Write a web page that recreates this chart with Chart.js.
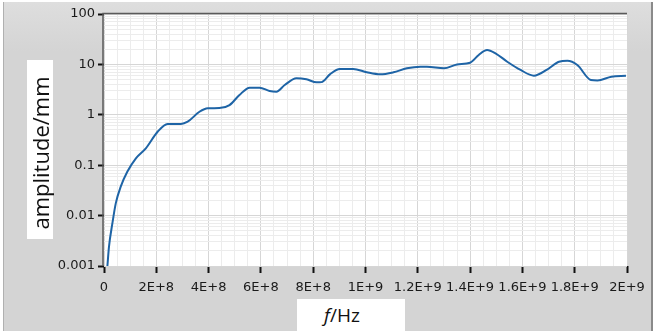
<!DOCTYPE html>
<html>
<head>
<meta charset="utf-8">
<script src="https://cdn.jsdelivr.net/npm/chart.js@4.4.4/dist/chart.umd.min.js"></script>
<style>
    html, body { margin: 0; padding: 0; background: #fff; }
    #wrap { position: relative; width: 661px; height: 334px; overflow: hidden; }
    #panel {
        position: absolute; left: 3px; top: 2px; width: 647px; height: 329px;
        background: linear-gradient(#dedede, #d4d4d4 15%, #d4d4d4);
        border-left: 1px solid #b0b0b0; border-right: 2px solid #8a8a8a;
    }
    #chart { position: absolute; left: 0; top: 0; }
    .axis-title {
        position: absolute; background: #fff; color: #111;
        font-family: "Open Sans", "DejaVu Sans", sans-serif;
        display: flex; align-items: center; justify-content: center;
    }
    #ytitle { left: 27px; top: 60px; width: 26px; height: 179px; }
    #ytitle span { transform: rotate(-90deg); white-space: nowrap; font-size: 22px; margin-top: 6px; }
    #xtitle { left: 297px; top: 299px; width: 108px; height: 32px; font-size: 19px; }
    #xtitle span { margin-right: 18px; }
</style>
</head>
<body>
<div id="wrap">
    <div id="panel"></div>
    <canvas id="chart" width="661" height="334"></canvas>
    <div class="axis-title" id="ytitle"><span>amplitude/mm</span></div>
    <div class="axis-title" id="xtitle"><span><i>f</i>/Hz</span></div>
</div>
<script>
// frequency (Hz) and amplitude (mm)
const frequency = [
    1.3e7, 1.9e7, 3.2e7, 4.5e7, 6.4e7, 8.9e7, 1.22e8, 1.6e8, 2.05e8, 2.43e8,
    2.94e8, 3.2e8, 3.65e8, 3.97e8, 4.41e8, 4.8e8, 5.18e8, 5.57e8, 5.95e8, 6.33e8,
    6.59e8, 6.91e8, 7.36e8, 7.74e8, 8.13e8, 8.32e8, 8.64e8, 9.02e8, 9.53e8, 1.005e9,
    1.056e9, 1.107e9, 1.158e9, 1.21e9, 1.235e9, 1.3e9, 1.35e9, 1.4e9, 1.433e9, 1.465e9,
    1.497e9, 1.542e9, 1.593e9, 1.644e9, 1.696e9, 1.74e9, 1.772e9, 1.81e9, 1.862e9, 1.887e9,
    1.94e9, 1.996e9
];
const amplitude = [
    0.001, 0.0024, 0.007, 0.0175, 0.0375, 0.074, 0.137, 0.216, 0.46, 0.66,
    0.66, 0.73, 1.15, 1.35, 1.36, 1.56, 2.47, 3.45, 3.45, 2.97,
    2.87, 3.9, 5.3, 5.06, 4.4, 4.45, 6.35, 8.1, 8.1, 6.97,
    6.35, 6.97, 8.35, 9.0, 9.0, 8.35, 10.0, 10.8, 15.4, 19.3,
    16.6, 11.3, 7.75, 5.97, 8.0, 11.3, 11.8, 9.7, 4.9, 4.8,
    5.7, 5.97
];

const yTickValues = [0.001, 0.01, 0.1, 1, 10, 100];
const yTickLabels = ["0.001", "0.01", "0.1", "1", "10", "100"];
const xTickValues = [0, 2e8, 4e8, 6e8, 8e8, 1e9, 1.2e9, 1.4e9, 1.6e9, 1.8e9, 2e9];
const xTickLabels = ["0", "2E+8", "4E+8", "6E+8", "8E+8", "1E+9", "1.2E+9", "1.4E+9", "1.6E+9", "1.8E+9", "2E+9"];

const PLOT = { left: 104, right: 627, top: 14, bottom: 266 };

function isMajorY(v) {
    return yTickValues.some(t => Math.abs(v - t) / t < 1e-6);
}

function isMajorX(v) {
    return xTickValues.some(t => Math.abs(v - t) < 1);
}

const plotFrame = {
    id: "plotFrame",
    beforeDraw(chart) {
        const { ctx, chartArea: a } = chart;
        ctx.save();
        ctx.fillStyle = "#ffffff";
        ctx.fillRect(a.left, a.top, a.right - a.left, a.bottom - a.top);
        ctx.restore();
    },
    afterDatasetsDraw(chart) {
        const { ctx, chartArea: a } = chart;
        ctx.save();
        ctx.strokeStyle = "#5a5a5a";
        ctx.lineWidth = 1.5;
        ctx.beginPath();
        ctx.moveTo(a.left - 1, a.bottom);
        ctx.lineTo(a.left - 1, a.top - 0.5);
        ctx.lineTo(a.right, a.top - 0.5);
        ctx.stroke();
        ctx.restore();
    }
};

Chart.defaults.font.family = "'DejaVu Sans', sans-serif";
Chart.defaults.font.size = 13;
Chart.defaults.color = "#1a1a1a";

new Chart(document.getElementById("chart"), {
    type: "line",
    data: {
        datasets: [{
            data: frequency.map((f, i) => ({ x: f, y: amplitude[i] })),
            borderColor: "#1e64a6",
            borderWidth: 2,
            pointRadius: 0,
            cubicInterpolationMode: "monotone",
            fill: false
        }]
    },
    options: {
        responsive: false,
        animation: false,
        events: [],
        layout: { padding: { left: 0, right: 661 - PLOT.right, top: PLOT.top, bottom: 0 } },
        plugins: { legend: { display: false }, tooltip: { enabled: false } },
        scales: {
            x: {
                type: "linear",
                min: 0,
                max: 2e9,
                afterFit(scale) { scale.height = 334 - PLOT.bottom; },
                afterBuildTicks(scale) {
                    const ticks = [];
                    for (let i = 0; i <= 40; i++) {
                        ticks.push({ value: i * 5e7 });
                    }
                    scale.ticks = ticks;
                },
                ticks: {
                    autoSkip: false,
                    maxRotation: 0,
                    padding: 7,
                    callback(value) {
                        const i = xTickValues.findIndex(t => Math.abs(t - value) < 1);
                        return i >= 0 ? xTickLabels[i] : "";
                    }
                },
                grid: {
                    color: ctx => isMajorX(ctx.tick.value) ? "#d6d6d6" : "#ececec",
                    tickColor: ctx => isMajorX(ctx.tick.value) ? "#111111" : "rgba(0,0,0,0)",
                    tickLength: 7,
                    tickWidth: 2
                },
                border: { display: false }
            },
            y: {
                type: "logarithmic",
                min: 0.001,
                max: 100,
                afterFit(scale) { scale.width = PLOT.left; },
                afterBuildTicks(scale) {
                    const ticks = [];
                    yTickValues.forEach(base => {
                        const steps = base === 100 ? 1 : 9;
                        for (let m = 1; m <= steps; m++) {
                            ticks.push({ value: +(m * base).toPrecision(6) });
                        }
                    });
                    scale.ticks = ticks;
                },
                ticks: {
                    autoSkip: false,
                    padding: 3,
                    callback(value) {
                        const i = yTickValues.findIndex(t => Math.abs(value - t) / t < 1e-6);
                        return i >= 0 ? yTickLabels[i] : "";
                    }
                },
                grid: {
                    color: ctx => isMajorY(ctx.tick.value) ? "#d6d6d6" : "#ececec",
                    tickColor: ctx => isMajorY(ctx.tick.value) ? "#111111" : "rgba(0,0,0,0)",
                    tickLength: 6,
                    tickWidth: 2
                },
                border: { display: false }
            }
        }
    },
    plugins: [plotFrame]
});
</script>
</body>
</html>
